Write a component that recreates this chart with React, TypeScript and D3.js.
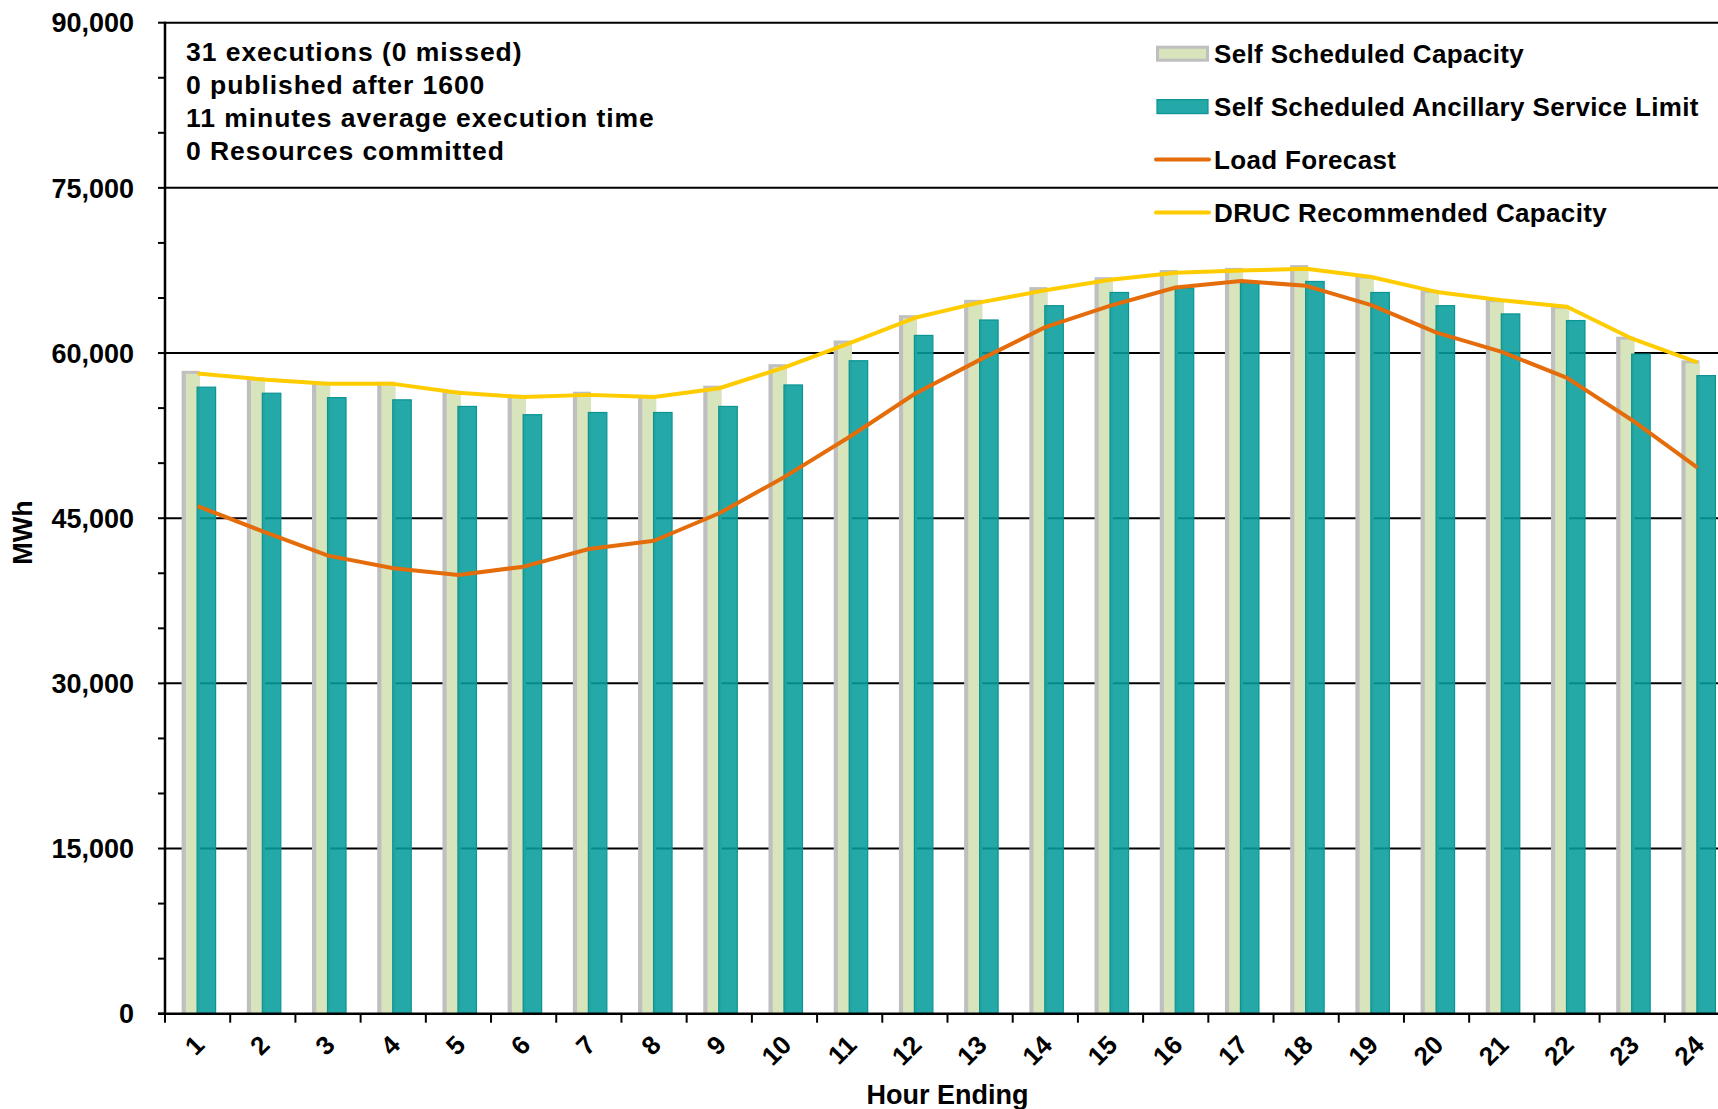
import React from "react";
import * as d3 from "d3";

const hours = ["1","2","3","4","5","6","7","8","9","10","11","12","13","14","15","16","17","18","19","20","21","22","23","24"];
const selfScheduledCapacity = [58250,57650,57250,57250,56450,56050,56350,56050,56900,58850,61000,63300,64700,65850,66750,67400,67600,67850,66900,65600,64750,64150,61350,59200];
const ancillaryServiceLimit = [56900,56350,55950,55750,55150,54400,54600,54600,55150,57100,59300,61600,63000,64300,65500,65900,66350,66500,65500,64300,63550,62950,59900,57950];
const loadForecast = [46100,43800,41600,40450,39850,40600,42200,42950,45450,48750,52400,56300,59400,62350,64300,65950,66550,66100,64350,61850,60100,57750,53900,49600];
const drucCapacity = [58150,57600,57200,57200,56400,56000,56200,56000,56800,58700,60900,63200,64600,65700,66650,67300,67500,67650,66900,65550,64800,64200,61300,59150];
const yTickValues = [0,15000,30000,45000,60000,75000,90000];
const infoLines = ["31 executions (0 missed)","0 published after 1600","11 minutes average execution time","0 Resources committed"];
const legendItems = [
  { label: "Self Scheduled Capacity", kind: "lightbar" },
  { label: "Self Scheduled Ancillary Service Limit", kind: "tealbar" },
  { label: "Load Forecast", kind: "orange" },
  { label: "DRUC Recommended Capacity", kind: "yellow" },
];

const W = 1718, H = 1109;
const left = 165, right = 1730, top = 22.7, bottom = 1013.7;
const FONT = "'Liberation Sans', Arial, sans-serif";
const C_LIGHT = "#d8e4bc", C_GRAY = "#bfbfbf", C_TEAL = "#079c9c", C_TEAL_S = "#0a9494", C_ORANGE = "#e46c0a", C_YELLOW = "#ffcc00";

export default function App() {
  const x = d3.scaleBand<string>().domain(hours).range([left, right]).paddingInner(0).paddingOuter(0);
  const y = d3.scaleLinear().domain([0, 90000]).range([bottom, top]);
  const bw = x.bandwidth();
  const cx = (h: string) => (x(h) as number) + bw / 2;
  const fmt = d3.format(",");
  const minorTicks = d3.range(0, 90001, 5000);
  const lineGen = d3.line<number>().x((_, i) => cx(hours[i])).y((d) => y(d));

  return (
    <div style={{ position: "absolute", left: 0, top: 0, width: W, height: H, background: "#fff" }}>
      <svg width={W} height={H} style={{ display: "block" }} fontFamily={FONT} fontWeight="bold">
        <rect x={0} y={0} width={W} height={H} fill="#fff" />
        {/* gridlines */}
        {yTickValues.filter((v) => v > 0).map((v) => (
          <line key={"g" + v} x1={left} x2={right} y1={y(v)} y2={y(v)} stroke="#000" strokeWidth={2} />
        ))}
        {/* bars */}
        {hours.map((h, i) => {
          const c = cx(h);
          const yl = y(selfScheduledCapacity[i]);
          const yt = y(ancillaryServiceLimit[i]);
          return (
            <g key={"b" + h}>
              <rect x={c - 16} y={yl - 1.5} width={18} height={bottom - yl + 1.5} fill={C_GRAY} />
              <rect x={c - 11.8} y={yl + 1.5} width={14} height={bottom - yl - 1.5} fill={C_LIGHT} />
              <rect x={c - 0.5} y={yt} width={18.5} height={bottom - yt} fill={C_TEAL} fillOpacity={0.88} stroke={C_TEAL_S} strokeWidth={1.2} />
            </g>
          );
        })}
        {/* lines */}
        <path d={lineGen(loadForecast) as string} fill="none" stroke={C_ORANGE} strokeWidth={4} strokeLinejoin="round" />
        <path d={lineGen(drucCapacity) as string} fill="none" stroke={C_YELLOW} strokeWidth={4} strokeLinejoin="round" />
        {/* y axis */}
        <line x1={left} x2={left} y1={top - 1} y2={bottom + 1} stroke="#000" strokeWidth={2.5} />
        {minorTicks.map((v) => (
          <line key={"t" + v} x1={left - 7} x2={left} y1={y(v)} y2={y(v)} stroke="#000" strokeWidth={2} />
        ))}
        {yTickValues.map((v) => (
          <text key={"yl" + v} x={134} y={y(v)} dy="0.36em" textAnchor="end" fontSize={27} fill="#000">{fmt(v)}</text>
        ))}
        {/* x axis */}
        <line x1={left - 7} x2={right} y1={bottom} y2={bottom} stroke="#000" strokeWidth={2.5} />
        {hours.map((h) => (
          <line key={"xt" + h} x1={x(h) as number} x2={x(h) as number} y1={bottom} y2={bottom + 9} stroke="#000" strokeWidth={2} />
        ))}
        {hours.map((h) => {
          const px = cx(h) + 2, py = 1040;
          return (
            <text key={"xl" + h} x={px} y={py} dy="0.35em" textAnchor="end" fontSize={26} transform={`rotate(-45, ${px}, ${py})`} fill="#000">{h}</text>
          );
        })}
        <text x={(left + right) / 2} y={1094.7} dy="0.35em" textAnchor="middle" fontSize={27} fill="#000">Hour Ending</text>
        <text x={22.5} y={532.5} dy="0.35em" textAnchor="middle" fontSize={27} transform="rotate(-90, 22.5, 532.5)" fill="#000">MWh</text>
        {/* info text */}
        {infoLines.map((t, i) => (
          <text key={"info" + i} x={186} y={51.5 + i * 33.2} dy="0.35em" fontSize={26.5} letterSpacing={0.95} fill="#000">{t}</text>
        ))}
        {/* legend */}
        {legendItems.map((it, i) => {
          const ly = 53.7 + i * 52.9;
          return (
            <g key={"lg" + i}>
              {it.kind === "lightbar" && (
                <>
                  <rect x={1156} y={ly - 8} width={53} height={16} fill={C_GRAY} />
                  <rect x={1159} y={ly - 5} width={47} height={10} fill={C_LIGHT} />
                </>
              )}
              {it.kind === "tealbar" && (
                <rect x={1157} y={ly - 7} width={51} height={14} fill={C_TEAL} fillOpacity={0.88} stroke={C_TEAL_S} strokeWidth={1.2} />
              )}
              {it.kind === "orange" && <line x1={1156} x2={1209} y1={ly} y2={ly} stroke={C_ORANGE} strokeWidth={4} strokeLinecap="round" />}
              {it.kind === "yellow" && <line x1={1156} x2={1209} y1={ly} y2={ly} stroke={C_YELLOW} strokeWidth={4} strokeLinecap="round" />}
              <text x={1214} y={ly} dy="0.35em" fontSize={26} letterSpacing={0.35} fill="#000">{it.label}</text>
            </g>
          );
        })}
      </svg>
    </div>
  );
}
